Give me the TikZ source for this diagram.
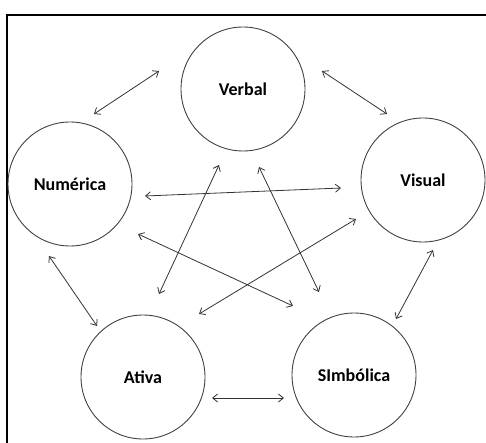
\documentclass[tikz,border=0pt]{standalone}
\usepackage{fontspec}
\setmainfont{Carlito}
\usetikzlibrary{shapes,arrows,arrows.meta}
\tikzset{
mode/.style = {draw=black!75, circle, minimum size=124pt, inner sep=0pt, line width=0.9pt,
  font=\fontsize{18}{21}\selectfont\bfseries},
link/.style = {<->, draw=black!80, line width=0.8pt},
frame/.style = {draw=black, line width=1.8pt}
}

\begin{document}
\begin{tikzpicture}[x=1pt, y=-1pt, >={Straight Barb[length=5pt,width=8pt]}]
    % page size and the outer frame
    \useasboundingbox (0,0) rectangle (486,443);
    \clip (0,0) rectangle (486,443);
    \draw [frame] (7,15) rectangle (500,460);

    % We start by placing the circles
    \node [mode] (verbal) at (243,89) {Verbal};
    \node [mode] (num) at (70,184) {Numérica};
    \node [mode] (visual) at (423,180) {Visual};
    \node [mode] (ativa) at (143,377) {Ativa};
    \node [mode] (simb) at (354,375) {SImbólica};

    % Then the arrows between them
    \draw [link] ([shift={(24,-70)}]num.center) -- ([shift={(-84,-18)}]verbal.center);
    \draw [link] ([shift={(79,-18)}]verbal.center) -- ([shift={(-36,-66)}]visual.center);
    \draw [link] ([shift={(75,12)}]num.center) -- ([shift={(-82,8)}]visual.center);
    \draw [link] ([shift={(-24,76)}]verbal.center) -- ([shift={(16,-83)}]ativa.center);
    \draw [link] ([shift={(16,78)}]verbal.center) -- ([shift={(-35,-83)}]simb.center);
    \draw [link] ([shift={(68,50)}]num.center) -- ([shift={(-61,-69)}]simb.center);
    \draw [link] ([shift={(-67,39)}]visual.center) -- ([shift={(56,-63)}]ativa.center);
    \draw [link] ([shift={(-21,72)}]num.center) -- ([shift={(-46,-51)}]ativa.center);
    \draw [link] ([shift={(10,70)}]visual.center) -- ([shift={(42,-56)}]simb.center);
    \draw [link] ([shift={(69,21)}]ativa.center) -- ([shift={(-70,23)}]simb.center);
\end{tikzpicture}
\end{document}
